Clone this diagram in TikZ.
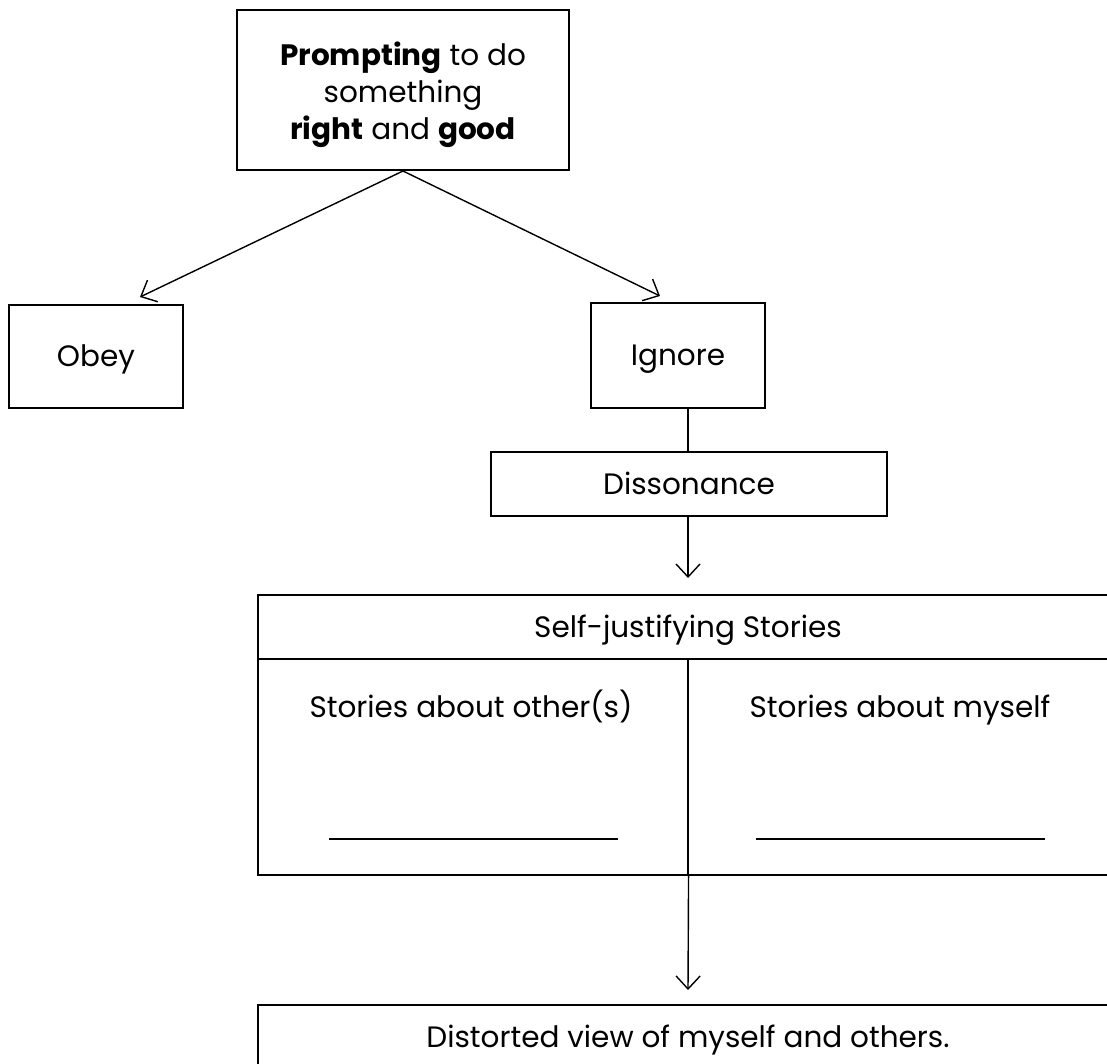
\documentclass[tikz,border=0pt]{standalone}
\usepackage{fontspec}
\setmainfont{Poppins}
\usetikzlibrary{arrows.meta}
\begin{document}
\begin{tikzpicture}[x=1pt,y=-1pt,
  txtfont/.style={font=\fontsize{29.5}{37}\selectfont},
  box/.style={draw, line width=1.6pt, inner sep=0pt, align=center, txtfont},
  onebox/.style={box, text height=20.6pt, text depth=0pt},
  cell/.style={draw, line width=1.1pt, inner sep=0pt},
  txt/.style={inner sep=0pt, align=center, txtfont, text height=20.6pt, text depth=0pt},
  arr/.style={line width=1.4pt, -{Straight Barb[length=13pt,width=24pt,line width=1.4pt]}},
  link/.style={line width=1.4pt}]
\useasboundingbox (0,0) rectangle (1107,1063);
\clip (0,0) rectangle (1107,1063);

% top box
\node[draw, line width=2pt, minimum width=332pt, minimum height=160pt] (prompt) at (403,90) {};
\node[inner sep=0pt, align=center, txtfont] (prompttxt) at (403,94.5)
  {\textbf{Prompting} to do\\something\\\textbf{right} and \textbf{good}};

% first level
\node[onebox, minimum width=174pt, minimum height=103pt] (obey) at (96,356.5) {Obey};
\node[onebox, minimum width=174pt, minimum height=105pt] (ignore) at (678,355.5) {Ignore};
\coordinate (obeytip) at (140,297);
\coordinate (ignoretip) at (660,296);
\draw[arr] (prompt.south) -- (obeytip);
\draw[arr] (prompt.south) -- (ignoretip);

% dissonance
\coordinate (axis) at (688,0);
\node[onebox, line width=1.3pt, minimum width=396pt, minimum height=64pt] (diss) at (689,484) {Dissonance};
\draw[link] (ignore.south -| axis) -- (diss.north -| axis);

% self-justifying stories
\node[onebox, line width=1.3pt, minimum width=860pt, minimum height=64pt] (sjs) at (688,627) {Self-justifying Stories};
\coordinate (sjstip) at (688,578);
\draw[arr] (diss.south -| axis) -- (sjstip);

\node[cell, minimum width=430pt, minimum height=216pt] (othercell) at (473,767) {};
\node[cell, minimum width=430pt, minimum height=216pt] (selfcell) at (903,767) {};
\node[txt] (othertxt) at (471,707) {Stories about other(s)};
\node[txt] (selftxt) at (900,707) {Stories about myself};
\coordinate (u1a) at (329,839);
\coordinate (u1b) at (618,839);
\coordinate (u2a) at (756,839);
\coordinate (u2b) at (1045,839);
\draw[line width=1.5pt] (u1a) -- (u1b);
\draw[line width=1.5pt] (u2a) -- (u2b);

% distorted view
\node[draw, line width=2.2pt, minimum width=860pt, minimum height=68pt, anchor=north] (dist) at (688,1004) {};
\node[txt] (disttxt) at (688,1037) {Distorted view of myself and others.};
\coordinate (disttip) at (688,990);
\draw[arr] (othercell.south east) -- (disttip);
\end{tikzpicture}
\end{document}
